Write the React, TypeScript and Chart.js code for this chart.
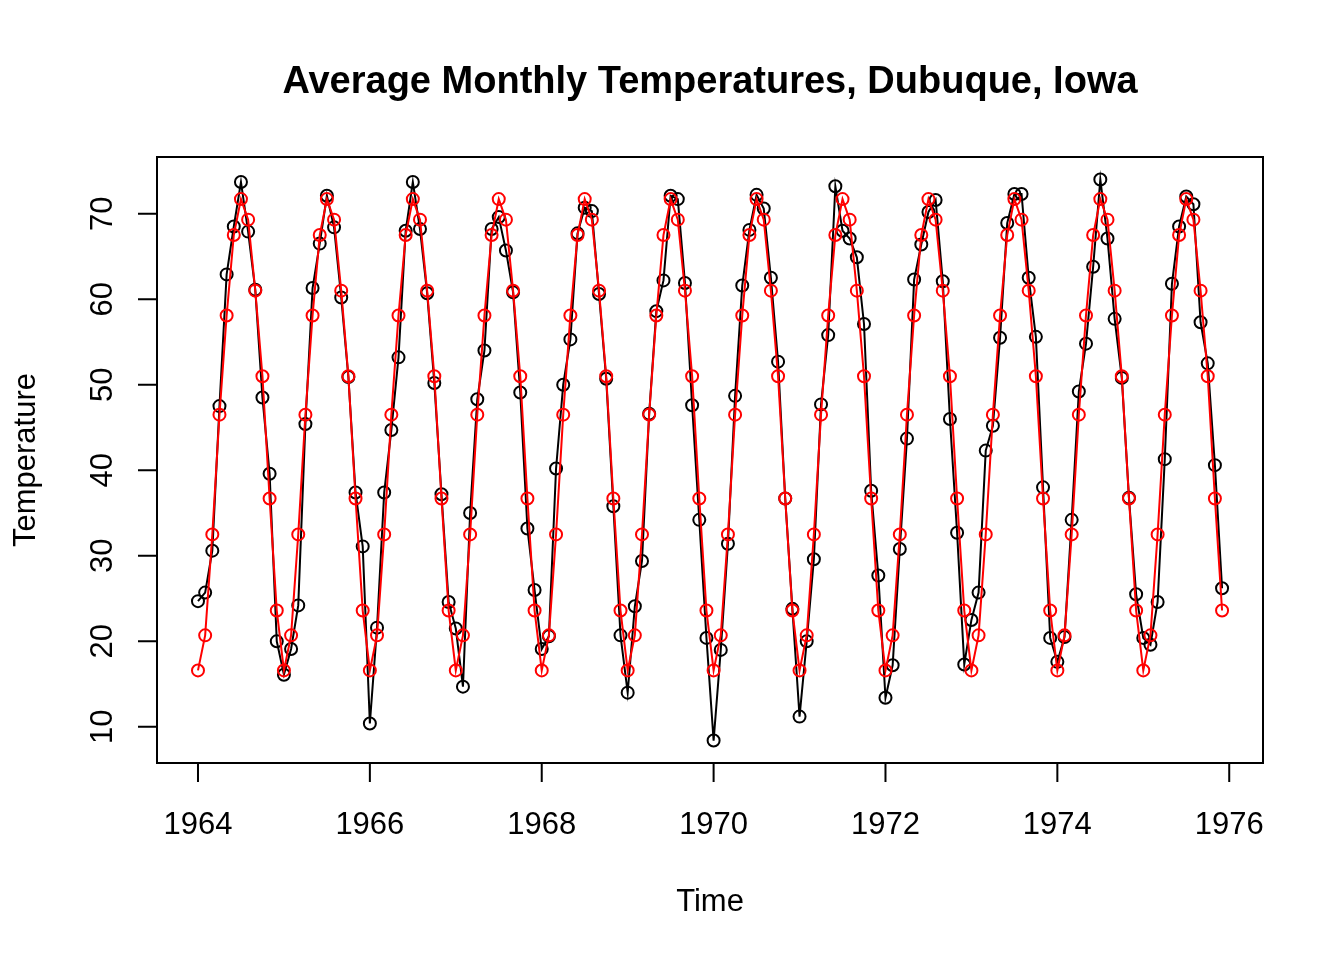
import { useEffect, useRef } from "react";
import { Chart, registerables } from "chart.js";

Chart.register(...registerables);

// tempdub: observed monthly averages, Jan..Dec per row
const observed1964 = [24.7, 25.7, 30.6, 47.5, 62.9, 68.5, 73.7, 67.9, 61.1, 48.5, 39.6, 20.0];
const observed1965 = [16.1, 19.1, 24.2, 45.4, 61.3, 66.5, 72.1, 68.4, 60.2, 50.9, 37.4, 31.1];
const observed1966 = [10.4, 21.6, 37.4, 44.7, 53.2, 68.0, 73.7, 68.2, 60.7, 50.2, 37.2, 24.6];
const observed1967 = [21.5, 14.7, 35.0, 48.3, 54.0, 68.2, 69.6, 65.7, 60.8, 49.1, 33.2, 26.0];
const observed1968 = [19.1, 20.6, 40.2, 50.0, 55.3, 67.7, 70.7, 70.3, 60.6, 50.7, 35.8, 20.7];
const observed1969 = [14.0, 24.1, 29.4, 46.6, 58.6, 62.2, 72.1, 71.7, 61.9, 47.6, 34.2, 20.4];
const observed1970 = [8.4, 19.0, 31.4, 48.7, 61.6, 68.1, 72.2, 70.6, 62.5, 52.7, 36.7, 23.8];
const observed1971 = [11.2, 20.0, 29.6, 47.7, 55.8, 73.2, 68.0, 67.1, 64.9, 57.1, 37.6, 27.7];
const observed1972 = [13.4, 17.2, 30.8, 43.7, 62.3, 66.4, 70.2, 71.6, 62.1, 46.0, 32.7, 17.3];
const observed1973 = [22.5, 25.7, 42.3, 45.2, 55.5, 68.9, 72.3, 72.3, 62.5, 55.6, 38.0, 20.4];
const observed1974 = [17.6, 20.5, 34.2, 49.2, 54.8, 63.8, 74.0, 67.1, 57.7, 50.8, 36.8, 25.5];
const observed1975 = [20.4, 19.6, 24.6, 41.3, 61.8, 68.5, 72.0, 71.1, 57.3, 52.5, 40.6, 26.2];

// fitted seasonal means, one row per year
const fitted = [
  16.6, 20.7, 32.5, 46.5, 58.1, 67.5, 71.7, 69.3, 61.0, 51.0, 36.7, 23.6,
  16.6, 20.7, 32.5, 46.5, 58.1, 67.5, 71.7, 69.3, 61.0, 51.0, 36.7, 23.6,
  16.6, 20.7, 32.5, 46.5, 58.1, 67.5, 71.7, 69.3, 61.0, 51.0, 36.7, 23.6,
  16.6, 20.7, 32.5, 46.5, 58.1, 67.5, 71.7, 69.3, 61.0, 51.0, 36.7, 23.6,
  16.6, 20.7, 32.5, 46.5, 58.1, 67.5, 71.7, 69.3, 61.0, 51.0, 36.7, 23.6,
  16.6, 20.7, 32.5, 46.5, 58.1, 67.5, 71.7, 69.3, 61.0, 51.0, 36.7, 23.6,
  16.6, 20.7, 32.5, 46.5, 58.1, 67.5, 71.7, 69.3, 61.0, 51.0, 36.7, 23.6,
  16.6, 20.7, 32.5, 46.5, 58.1, 67.5, 71.7, 69.3, 61.0, 51.0, 36.7, 23.6,
  16.6, 20.7, 32.5, 46.5, 58.1, 67.5, 71.7, 69.3, 61.0, 51.0, 36.7, 23.6,
  16.6, 20.7, 32.5, 46.5, 58.1, 67.5, 71.7, 69.3, 61.0, 51.0, 36.7, 23.6,
  16.6, 20.7, 32.5, 46.5, 58.1, 67.5, 71.7, 69.3, 61.0, 51.0, 36.7, 23.6,
  16.6, 20.7, 32.5, 46.5, 58.1, 67.5, 71.7, 69.3, 61.0, 51.0, 36.7, 23.6,
];

const startYear = 1964;
const xTicks = [1964, 1966, 1968, 1970, 1972, 1974, 1976];
const yTicks = [10, 20, 30, 40, 50, 60, 70];

const observed = [
  ...observed1964, ...observed1965, ...observed1966, ...observed1967,
  ...observed1968, ...observed1969, ...observed1970, ...observed1971,
  ...observed1972, ...observed1973, ...observed1974, ...observed1975,
];

const toPoints = (vals: number[]) =>
  vals.map((y, i) => ({ x: startYear + i / 12, y }));

const FONT = "'Liberation Sans', Arial, sans-serif";

// R-style box, ticks and labels drawn from the chart's scales
const rAxes = {
  id: "rAxes",
  afterDraw(chart: Chart) {
    const { ctx, chartArea: a, scales } = chart;
    const xs = scales.x;
    const ys = scales.y;
    ctx.save();
    ctx.strokeStyle = "#000";
    ctx.fillStyle = "#000";
    ctx.lineWidth = 2;
    ctx.strokeRect(a.left, a.top, a.right - a.left, a.bottom - a.top);

    const tick = 19;
    ctx.beginPath();
    xTicks.forEach((v) => {
      const px = xs.getPixelForValue(v);
      ctx.moveTo(px, a.bottom);
      ctx.lineTo(px, a.bottom + tick);
    });
    yTicks.forEach((v) => {
      const py = ys.getPixelForValue(v);
      ctx.moveTo(a.left, py);
      ctx.lineTo(a.left - tick, py);
    });
    ctx.stroke();

    ctx.font = `31px ${FONT}`;
    ctx.textAlign = "center";
    ctx.textBaseline = "alphabetic";
    xTicks.forEach((v) => {
      ctx.fillText(String(v), xs.getPixelForValue(v), 834);
    });
    yTicks.forEach((v) => {
      ctx.save();
      ctx.translate(112, ys.getPixelForValue(v));
      ctx.rotate(-Math.PI / 2);
      ctx.fillText(String(v), 0, 0);
      ctx.restore();
    });

    const cx = (a.left + a.right) / 2;
    const cy = (a.top + a.bottom) / 2;
    ctx.fillText("Time", cx, 911);
    ctx.save();
    ctx.translate(35, cy);
    ctx.rotate(-Math.PI / 2);
    ctx.fillText("Temperature", 0, 0);
    ctx.restore();

    ctx.font = `bold 38px ${FONT}`;
    ctx.fillText("Average Monthly Temperatures, Dubuque, Iowa", cx, 93);
    ctx.restore();
  },
};

export default function App() {
  const canvasRef = useRef<HTMLCanvasElement>(null);
  const chartRef = useRef<Chart | null>(null);

  useEffect(() => {
    document.body.style.margin = "0";
    if (!canvasRef.current) return;
    if (chartRef.current) chartRef.current.destroy();

    chartRef.current = new Chart(canvasRef.current, {
      type: "line",
      data: {
        datasets: [
          {
            label: "Fitted",
            data: toPoints(fitted),
            borderColor: "#ff0000",
            borderWidth: 2,
            pointRadius: 6,
            pointBorderWidth: 2,
            pointBorderColor: "#ff0000",
            pointBackgroundColor: "rgba(0,0,0,0)",
            tension: 0,
          },
          {
            label: "Observed",
            data: toPoints(observed),
            borderColor: "#000000",
            borderWidth: 2,
            pointRadius: 6,
            pointBorderWidth: 2,
            pointBorderColor: "#000000",
            pointBackgroundColor: "rgba(0,0,0,0)",
            tension: 0,
          },
        ],
      },
      options: {
        responsive: false,
        animation: false,
        devicePixelRatio: 1,
        layout: { padding: { left: 157, top: 157, right: 81, bottom: 197 } },
        plugins: {
          legend: { display: false },
          tooltip: { enabled: false },
        },
        scales: {
          x: { type: "linear", min: 1963.523, max: 1976.393, display: false },
          y: { type: "linear", min: 5.776, max: 76.624, display: false },
        },
      },
      plugins: [rAxes],
    });

    return () => {
      chartRef.current?.destroy();
      chartRef.current = null;
    };
  }, []);

  return (
    <div style={{ width: 1344, height: 960, background: "#fff" }}>
      <canvas ref={canvasRef} width={1344} height={960} />
    </div>
  );
}
